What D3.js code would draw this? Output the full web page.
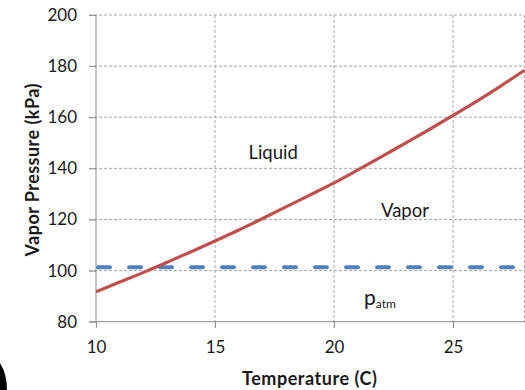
<!DOCTYPE html>
<html>
<head>
<meta charset="utf-8">
<script src="https://cdn.jsdelivr.net/npm/d3@7"></script>
<style>
  body { margin: 0; background: #fff; }
  text { font-family: Lato, "Open Sans", sans-serif; fill: #1a1a1a; }
</style>
</head>
<body>
<div class="container"></div>
<script>
'use strict';

// Vapor pressure curve (C -> kPa)
const temps = [10, 11, 12, 13, 14, 15, 16, 17, 18, 19, 20, 21, 22, 23, 24, 25, 26, 27, 28];
const vaporPressure = [91.7, 95.5, 99.3, 103.3, 107.4, 111.6, 115.9, 120.4, 125.0, 129.6, 134.3,
  139.4, 144.6, 149.9, 155.2, 160.7, 166.3, 172.2, 178.4];
const atmTemps = [10, 28];
const atmPressure = [101.3, 101.3];
const xTicks = [10, 15, 20, 25];
const yTicks = [80, 100, 120, 140, 160, 180, 200];
// label anchors in data units (baseline)
const regionLabels = [
  { text: 'Liquid', t: 17.44, p: 143.8 },
  { text: 'Vapor', t: 22.98, p: 120.8 }
];

(function () {
  const width = 525, height = 390;
  const left = 96, right = 524.5, top = 15, bottom = 321.7;

  const x = d3.scaleLinear().domain([10, 28]).range([left, right]);
  const y = d3.scaleLinear().domain([80, 200]).range([bottom, top]);

  const svg = d3.select('.container').append('svg')
    .attr('width', width)
    .attr('height', height);

  const gridColor = '#a6a6a6';

  // Horizontal gridlines
  svg.append('g').selectAll('line')
    .data(yTicks.filter(v => v > 80))
    .enter().append('line')
    .attr('x1', left - 7).attr('x2', right)
    .attr('y1', d => y(d)).attr('y2', d => y(d))
    .attr('stroke', gridColor)
    .attr('stroke-dasharray', '3,2');

  // Vertical gridlines plus right border
  svg.append('g').selectAll('line')
    .data(xTicks.filter(v => v > 10).concat([28]))
    .enter().append('line')
    .attr('x1', d => x(d)).attr('x2', d => x(d))
    .attr('y1', top).attr('y2', d => d === 28 ? bottom : bottom + 6)
    .attr('stroke', gridColor)
    .attr('stroke-dasharray', '3,2');

  // Axes
  const yAxis = svg.append('g')
    .attr('transform', `translate(${left},0)`)
    .call(d3.axisLeft(y).tickValues(yTicks).tickSize(7).tickPadding(12));
  const xAxis = svg.append('g')
    .attr('transform', `translate(0,${bottom})`)
    .call(d3.axisBottom(x).tickValues(xTicks).tickSize(6).tickPadding(13).tickSizeOuter(0));

  [yAxis, xAxis].forEach(g => {
    g.select('.domain').attr('stroke', '#8c8c8c');
    g.selectAll('.tick line').attr('stroke', '#8c8c8c');
    g.selectAll('.tick text')
      .attr('font-size', 17)
      .attr('font-family', 'Lato, sans-serif')
      .attr('fill', '#1a1a1a');
  });
  yAxis.select('.domain').attr('d', `M0,${bottom}V${top}`);
  xAxis.select('.domain').attr('d', `M${left - 7},0H${width}`);

  // Atmospheric pressure line
  const atmLine = d3.line()
    .x((d, i) => x(atmTemps[i]))
    .y(d => y(d));
  svg.append('path')
    .attr('d', atmLine(atmPressure))
    .attr('fill', 'none')
    .attr('stroke', '#4f81bd')
    .attr('stroke-width', 4)
    .attr('stroke-linecap', 'round')
    .attr('stroke-dasharray', '12,19')
    .attr('stroke-dashoffset', -2);

  // Vapor pressure curve
  const curve = d3.line()
    .x((d, i) => x(temps[i]))
    .y(d => y(d))
    .curve(d3.curveMonotoneX);
  svg.append('path')
    .attr('d', curve(vaporPressure))
    .attr('fill', 'none')
    .attr('stroke', '#c0504d')
    .attr('stroke-width', 3.2);

  // Region labels
  svg.selectAll('.region')
    .data(regionLabels)
    .enter().append('text')
    .attr('class', 'region')
    .attr('x', d => x(d.t))
    .attr('y', d => y(d.p))
    .attr('text-anchor', 'middle')
    .attr('font-size', 18.5)
    .text(d => d.text);

  const patm = svg.append('text')
    .attr('x', 364)
    .attr('y', 305)
    .attr('font-size', 21);
  patm.append('tspan').text('p');
  patm.append('tspan').attr('font-size', 12).attr('dy', 3).text('atm');

  // Axis titles
  svg.append('text')
    .attr('x', 309.5)
    .attr('y', 385)
    .attr('text-anchor', 'middle')
    .attr('font-size', 18)
    .attr('font-weight', 'bold')
    .attr('textLength', 135)
    .text('Temperature (C)');

  svg.append('text')
    .attr('transform', 'translate(38.5,170) rotate(-90)')
    .attr('text-anchor', 'middle')
    .attr('font-size', 18)
    .attr('font-weight', 'bold')
    .attr('textLength', 173)
    .text('Vapor Pressure (kPa)');

  // Cropped black shape at bottom-left corner
  svg.append('path')
    .attr('d', 'M0,363 Q7,374 7,390 L0,390 Z')
    .attr('fill', '#000');
})();
</script>
</body>
</html>
